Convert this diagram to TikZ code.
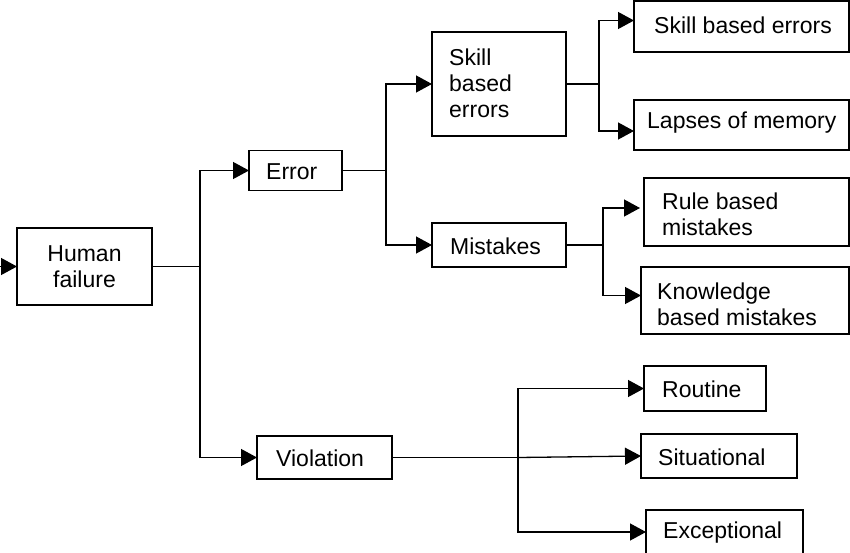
\documentclass[tikz,border=0pt]{standalone}
\usepackage{fontspec}
\setmainfont{Liberation Sans}
\usetikzlibrary{arrows.meta,calc}
\begin{document}
\begin{tikzpicture}[x=1pt,y=-1pt,
  box/.style={draw, line width=1.7pt, inner sep=0pt, outer sep=0pt, font=\fontsize{23}{26}\selectfont, align=center},
  txt/.style={inner sep=0pt, font=\fontsize{23}{26}\selectfont, align=left, anchor=west},
  ln/.style={line width=1.3pt},
  arr/.style={line width=1.3pt, -{Triangle[length=16pt,width=17pt]}}]
\useasboundingbox (0,0) rectangle (850,553);
% boxes
\node[box, minimum width=135, minimum height=77] (hf) at (84.5,266.5) {Human\\failure};
\node[box, minimum width=93, minimum height=40] (err) at (295.5,170.5) {};
\node[txt] (errt) at (266,172) {Error};
\node[box, minimum width=134, minimum height=104] (skm) at (499,84) {};
\node[txt] (skmt) at (449,83) {Skill\\based\\errors};
\node[box, minimum width=134, minimum height=44] (mis) at (499,245) {};
\node[txt] (mist) at (450,246) {Mistakes};
\node[box, minimum width=215, minimum height=51] (skr) at (741.5,26.5) {};
\node[txt] (skrt) at (654,25) {Skill based errors};
\node[box, minimum width=215, minimum height=50] (lap) at (741.5,125) {};
\node[txt] (lapt) at (647,123) {Lapses of memory};
\node[box, minimum width=205, minimum height=68] (rul) at (746.5,212) {};
\node[txt] (rult) at (662,214) {Rule based\\mistakes};
\node[box, minimum width=208, minimum height=67] (kno) at (745,300.5) {};
\node[txt] (knot) at (657,304) {Knowledge\\based mistakes};
\node[box, minimum width=135, minimum height=43] (vio) at (324.5,457.5) {};
\node[txt] (viot) at (276,458.5) {Violation};
\node[box, minimum width=122, minimum height=45] (rou) at (705,388.5) {};
\node[txt] (rout) at (662,389.5) {Routine};
\node[box, minimum width=156, minimum height=44] (sit) at (719,456) {};
\node[txt] (sitt) at (658,457) {Situational};
\node[box, minimum width=157, minimum height=48] (exc) at (724.5,534) {};
\node[txt] (exct) at (663,532.5) {Exceptional};
% junctions
\coordinate (in) at (-5,266.5);
\coordinate (j1) at (200,266.5);
\coordinate (j2) at (386,170.5);
\coordinate (j3) at (599,84);
\coordinate (j4) at (603,245);
\coordinate (j5) at (518,457.5);
% connectors
\draw[arr] (in) -- (hf.west);
\draw[ln] (hf.east) -- (j1);
\draw[arr] (j1) |- (err.west);
\draw[arr] (j1) |- (vio.west);
\draw[ln] (err.east) -- (j2);
\draw[arr] (j2) |- (skm.west);
\draw[arr] (j2) |- (mis.west);
\draw[ln] (skm.east) -- (j3);
\draw[arr] (j3) |- ($(skr.west)+(0,-6)$);
\draw[arr] (j3) |- ($(lap.west)+(0,6)$);
\draw[ln] (mis.east) -- (j4);
\draw[arr] (j4) |- ($(rul.west)+(-4,-4)$);
\draw[arr] (j4) |- ($(kno.west)+(0,-5)$);
\draw[ln] (vio.east) -- (j5);
\draw[arr] (j5) |- (rou.west);
\draw[arr] (j5) -- (sit.west);
\draw[arr] (j5) |- ($(exc.west)+(0,-2)$);
\end{tikzpicture}
\end{document}
